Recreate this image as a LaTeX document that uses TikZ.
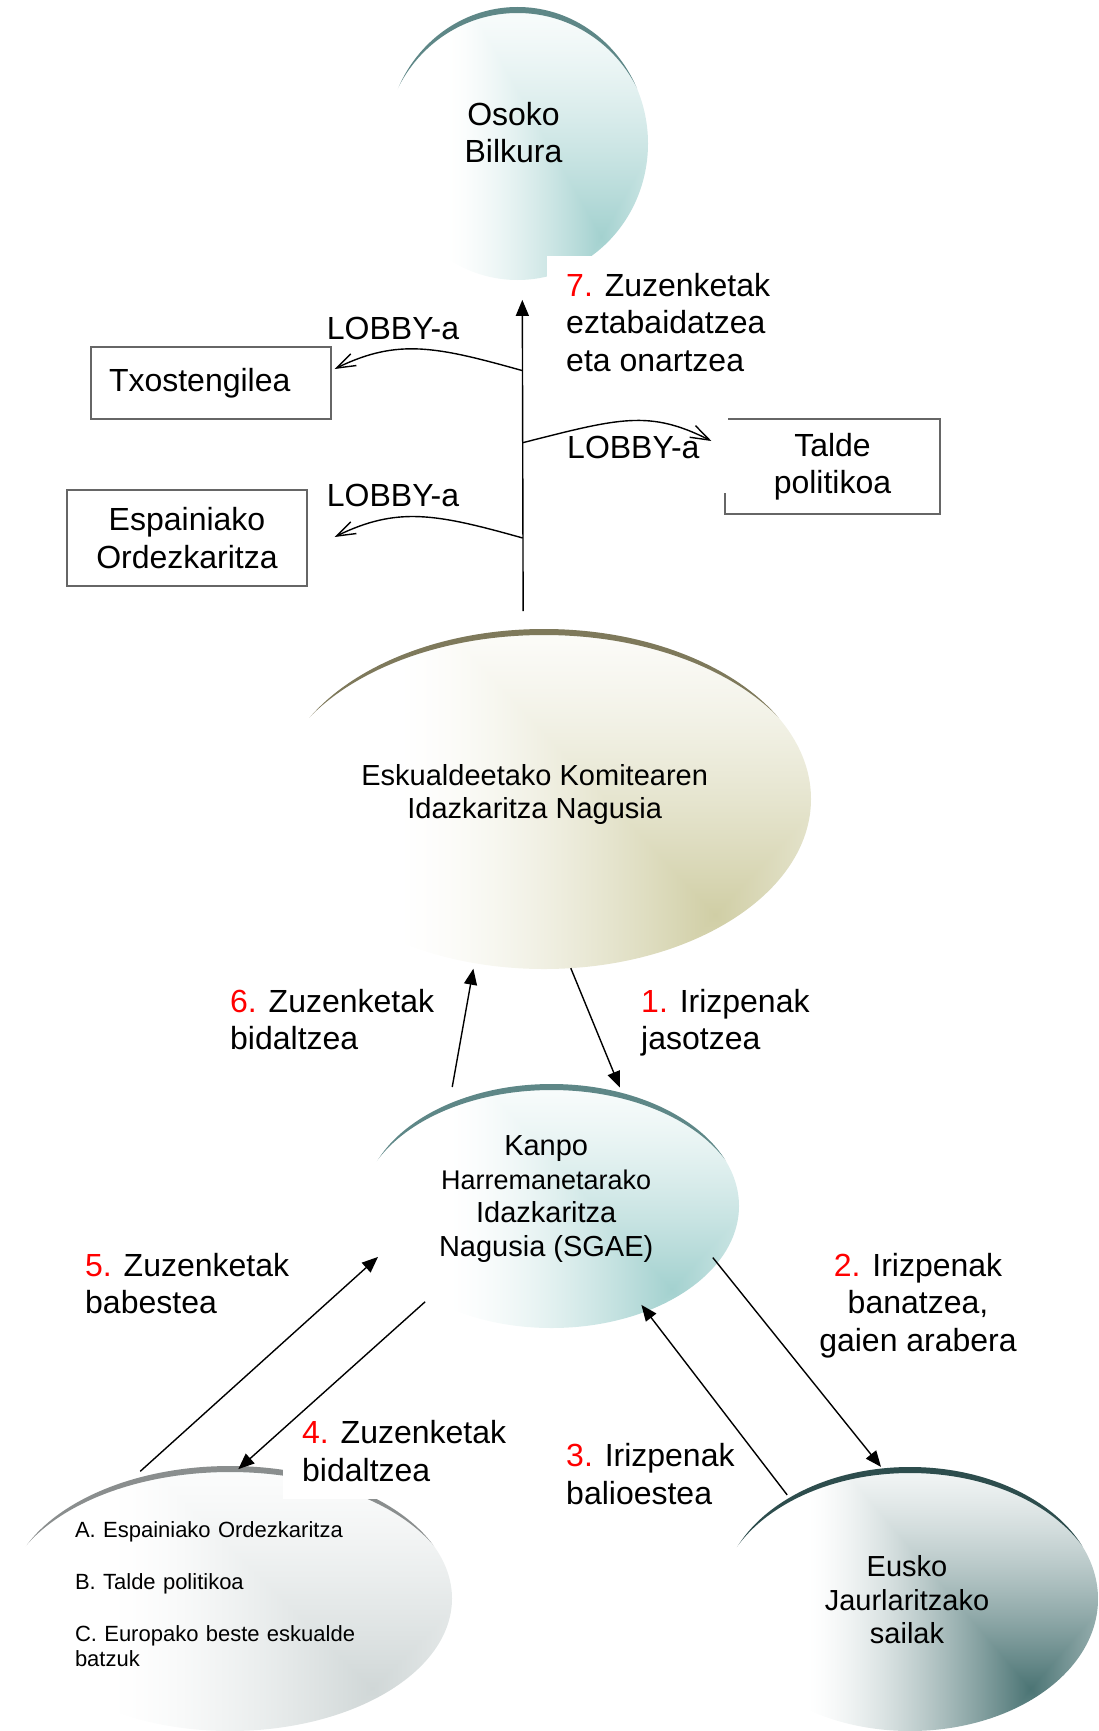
\documentclass[tikz,border=0pt]{standalone}
\usepackage{fontspec}
\setmainfont{Liberation Sans}
\usetikzlibrary{arrows.meta, shapes.geometric}

\definecolor{tealdark}{HTML}{A3D1CF}
\definecolor{tealrim}{HTML}{5E8787}
\definecolor{olivedark}{HTML}{D0CEA5}
\definecolor{oliverim}{HTML}{7E795B}
\definecolor{slatedark}{HTML}{4B7474}
\definecolor{slaterim}{HTML}{2D4D4D}
\definecolor{greydark}{HTML}{D0D7D7}
\definecolor{greyrim}{HTML}{8A8E8E}
\colorlet{blobcol}{white}
% corner gradient: darkest towards the lower right, white towards left and top
\pgfdeclarefunctionalshading[blobcol]{blobshade}{\pgfpoint{-50bp}{-50bp}}{\pgfpoint{50bp}{50bp}}
  {\pgfshadecolortorgb{blobcol}{\blobrgb}}
  {17 add abs 0.6 mul exch 16 sub abs 2 copy lt {exch} if pop
   30 div dup 1 gt {pop 1} if 1 exch sub 1.5 exp
   dup 1 \blobrgbred\space sub mul 1 exch sub
   exch dup 1 \blobrgbgreen\space sub mul 1 exch sub
   exch 1 \blobrgbblue\space sub mul 1 exch sub}

\tikzset{
  blobfill/.code={\colorlet{blobcol}{#1}},
  blob/.style n args={3}{ellipse, minimum width=2*#1, minimum height=2*#2,
    inner sep=0pt, outer sep=0pt, blobfill=#3dark, shading=blobshade,
    path picture={\fill[#3rim, even odd rule]
      ([shift={(-30pt,-30pt)}]path picture bounding box.south west) rectangle ([shift={(30pt,30pt)}]path picture bounding box.north east)
      ([yshift=-6pt]path picture bounding box.center) ellipse [x radius=#1*1.025, y radius=#2];}},
  bigtxt/.style={font=\fontsize{32}{37.5}\selectfont},
  midtxt/.style={font=\fontsize{29}{33.5}\selectfont},
  smalltxt/.style={font=\fontsize{22}{25.5}\selectfont},
  plainbox/.style={bigtxt, draw=black!60, line width=1.1pt, inner xsep=18pt, inner ysep=0pt},
  steptxt/.style={bigtxt, fill=white, anchor=north west, align=left, inner xsep=19pt, inner ysep=17pt},
  lobbytxt/.style={bigtxt, inner sep=0pt, anchor=base west},
  flow/.style={line width=1.4pt, -{Triangle[length=16pt, width=13pt]}},
  lobbyarrow/.style={line width=1.4pt, -{Straight Barb[length=19pt, width=13pt]}},
}

\begin{document}
\begin{tikzpicture}[x=1pt, y=1pt]
\useasboundingbox (0,0) rectangle (1098,-1731);

% Shaded ellipses
\node[blob={130.5}{136.5}{teal}] (osoko) at (517.5,-143.5) {};
\node[blob={267}{170}{olive}] (eskual) at (544,-799) {};
\node[blob={187.5}{122}{teal}] (kanpo) at (551.5,-1206) {};
\node[blob={222}{132.5}{grey}] (taldeak) at (230,-1598.5) {};
\node[blob={188}{132}{slate}] (eusko) at (910,-1599) {};

% Texts in the ellipses
\node[bigtxt, align=center] (osokotxt) at ([xshift=-4pt,yshift=10.8pt]osoko.center) {Osoko\\Bilkura};
\node[midtxt, align=center] (eskualtxt) at ([xshift=-9.3pt,yshift=4.7pt]eskual.center) {Eskualdeetako Komitearen\\Idazkaritza Nagusia};
\node[midtxt, align=center] (kanpotxt) at ([xshift=-5.3pt,yshift=7pt]kanpo.center) {Kanpo\\{\fontsize{27}{33}\selectfont Harremanetarako}\\Idazkaritza\\Nagusia (SGAE)};
\node[smalltxt, text width=310pt, align=left] (taldeaktxt) at ([yshift=4.5pt]taldeak.center) {A. Espainiako Ordezkaritza\\[27pt]B. Talde politikoa\\[26pt]C. Europako beste eskualde\\batzuk};
\node[midtxt, align=center] (euskotxt) at ([xshift=-3pt,yshift=-1pt]eusko.center) {Eusko\\Jaurlaritzako\\sailak};

% Boxes
\node[plainbox, minimum width=240pt, minimum height=72pt, text width=204pt, align=left] (txos) at (211,-383) {Txostengilea};
\node[plainbox, minimum width=240pt, minimum height=96pt, align=center] (espain) at (187,-538) {Espainiako\\Ordezkaritza};
\node[plainbox, minimum width=215pt, minimum height=95pt, align=center] (talde) at (832.5,-466.5) {Talde\\politikoa};

% LOBBY labels
\node[lobbytxt] (lobbyTx) at (326.7,-339.3) {LOBBY-a};
\node[lobbytxt] (lobbyEs) at (326.7,-506) {LOBBY-a};
\node[bigtxt, fill=white, anchor=north west, text width=142pt, inner xsep=19pt, inner ysep=34pt] (lobbyTa) at (548,-402) {LOBBY-a};

% Step labels
\node[steptxt] (step7) at (547,-255.7) {\textcolor{red}{7.} Zuzenketak\\eztabaidatzea\\eta onartzea};
\node[steptxt] (step6) at (211,-972) {\textcolor{red}{6.} Zuzenketak\\bidaltzea};
\node[steptxt] (step1) at (622,-972) {\textcolor{red}{1.} Irizpenak\\jasotzea};
\node[steptxt] (step5) at (66,-1236) {\textcolor{red}{5.} Zuzenketak\\babestea};
\node[steptxt, anchor=north, align=center] (step2) at (918,-1236) {\textcolor{red}{2.} Irizpenak\\banatzea,\\gaien arabera};
\node[steptxt] (step4) at (283,-1403.5) {\textcolor{red}{4.} Zuzenketak\\bidaltzea};
\node[steptxt] (step3) at (547,-1426.5) {\textcolor{red}{3.} Irizpenak\\balioestea};

% Vertical arrow and lobby points on it
\draw[flow, shorten <=18.5pt, shorten >=20pt] (eskual.97.2) -- (osoko.272.2);
\coordinate (lobTx) at (522.7,-370.7);
\coordinate (lobTa) at (522.7,-442.7);
\coordinate (lobEs) at (522.7,-538);

% Lobby arrows
\draw[lobbyarrow] (lobTx) .. controls +(-86.7,24.3) and +(62.9,30.8) .. ([xshift=3pt,yshift=14pt]txos.east);
\draw[lobbyarrow] (lobEs) .. controls +(-86.7,24.3) and +(62.9,30.8) .. ([xshift=27pt,yshift=1pt]espain.east);
\draw[lobbyarrow] (lobTa) .. controls +(96.9,24.6) and +(-62.4,31.5) .. ([xshift=-13pt,yshift=25.5pt]talde.west);

% Flow arrows
\draw[flow, shorten >=6pt] (eskual.279) -- (kanpo.58.4);
\draw[flow, shorten <=-7pt, shorten >=2pt] (kanpo.341.6) -- (eusko.102.1);
\draw[flow, shorten <=3.6pt, shorten >=-8pt] (eusko.140.1) -- (kanpo.312.7);
\draw[flow, shorten <=5.2pt, shorten >=-4.4pt] (kanpo.217.8) -- (taldeak.85.1);
\draw[flow, shorten <=13pt, shorten >=2.6pt] (taldeak.130.8) -- (kanpo.196);
\draw[flow, shorten <=17pt, shorten >=5.7pt] (kanpo.135.8) -- (eskual.247.6);

\end{tikzpicture}
\end{document}
